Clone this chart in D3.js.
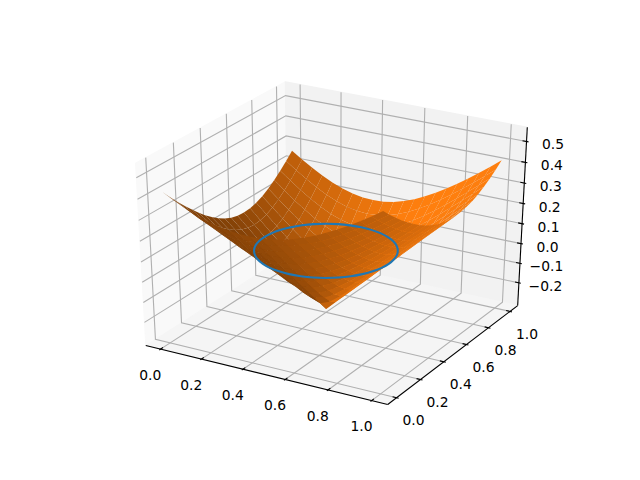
<!DOCTYPE html>
<html>
<head>
<meta charset="utf-8">
<script src="https://cdn.jsdelivr.net/npm/d3@7"></script>
<style>
html,body{margin:0;padding:0;background:#fff}
svg{display:block}
text{font-family:"DejaVu Sans",sans-serif;font-size:13.89px;fill:#000;text-anchor:middle;dominant-baseline:central}
</style>
</head>
<body>
<svg id="chart" width="640" height="480"></svg>
<script>
// ---------- data ----------
const gridX = [0,.05,.1,.15,.2,.25,.3,.35,.4,.45,.5,.55,.6,.65,.7,.75,.8,.85,.9,.95,1];
const gridY = [0,.05,.1,.15,.2,.25,.3,.35,.4,.45,.5,.55,.6,.65,.7,.75,.8,.85,.9,.95,1];
// one row per gridY value, one column per gridX value
const surfaceZ = [
[.421,.395,.371,.35,.332,.318,.308,.302,.3,.302,.308,.318,.332,.35,.371,.395,.421,.45,.481,.514,.549],
[.38,.352,.326,.304,.285,.27,.259,.252,.25,.252,.259,.27,.285,.304,.326,.352,.38,.411,.443,.478,.514],
[.34,.31,.283,.259,.239,.222,.21,.202,.2,.202,.21,.222,.239,.259,.283,.31,.34,.373,.407,.443,.481],
[.302,.27,.241,.215,.192,.174,.161,.153,.15,.153,.161,.174,.192,.215,.241,.27,.302,.336,.373,.411,.45],
[.266,.232,.2,.172,.147,.127,.112,.103,.1,.103,.112,.127,.147,.172,.2,.232,.266,.302,.34,.38,.421],
[.232,.195,.161,.13,.103,.081,.064,.054,.05,.054,.064,.081,.103,.13,.161,.195,.232,.27,.31,.352,.395],
[.2,.161,.124,.09,.061,.035,.016,.004,0,.004,.016,.035,.061,.09,.124,.161,.2,.241,.283,.326,.371],
[.172,.13,.09,.054,.02,-.008,-.031,-.045,-.05,-.045,-.031,-.008,.02,.054,.09,.13,.172,.215,.259,.304,.35],
[.147,.103,.061,.02,-.017,-.05,-.076,-.094,-.1,-.094,-.076,-.05,-.017,.02,.061,.103,.147,.192,.239,.285,.332],
[.127,.081,.035,-.008,-.05,-.088,-.12,-.142,-.15,-.142,-.12,-.088,-.05,-.008,.035,.081,.127,.174,.222,.27,.318],
[.112,.064,.016,-.031,-.076,-.12,-.159,-.188,-.2,-.188,-.159,-.12,-.076,-.031,.016,.064,.112,.161,.21,.259,.308],
[.103,.054,.004,-.045,-.094,-.142,-.188,-.229,-.25,-.229,-.188,-.142,-.094,-.045,.004,.054,.103,.153,.202,.252,.302],
[.1,.05,0,-.05,-.1,-.15,-.2,-.25,-.3,-.25,-.2,-.15,-.1,-.05,0,.05,.1,.15,.2,.25,.3],
[.103,.054,.004,-.045,-.094,-.142,-.188,-.229,-.25,-.229,-.188,-.142,-.094,-.045,.004,.054,.103,.153,.202,.252,.302],
[.112,.064,.016,-.031,-.076,-.12,-.159,-.188,-.2,-.188,-.159,-.12,-.076,-.031,.016,.064,.112,.161,.21,.259,.308],
[.127,.081,.035,-.008,-.05,-.088,-.12,-.142,-.15,-.142,-.12,-.088,-.05,-.008,.035,.081,.127,.174,.222,.27,.318],
[.147,.103,.061,.02,-.017,-.05,-.076,-.094,-.1,-.094,-.076,-.05,-.017,.02,.061,.103,.147,.192,.239,.285,.332],
[.172,.13,.09,.054,.02,-.008,-.031,-.045,-.05,-.045,-.031,-.008,.02,.054,.09,.13,.172,.215,.259,.304,.35],
[.2,.161,.124,.09,.061,.035,.016,.004,0,.004,.016,.035,.061,.09,.124,.161,.2,.241,.283,.326,.371],
[.232,.195,.161,.13,.103,.081,.064,.054,.05,.054,.064,.081,.103,.13,.161,.195,.232,.27,.31,.352,.395],
[.266,.232,.2,.172,.147,.127,.112,.103,.1,.103,.112,.127,.147,.172,.2,.232,.266,.302,.34,.38,.421]
];
const circleX = [.7,.695,.682,.66,.63,.593,.55,.503,.452,.4,.348,.297,.25,.207,.17,.14,.118,.105,.1,.105,.118,.14,.17,.207,.25,.297,.348,.4,.452,.503,.55,.593,.63,.66,.682,.695];
const circleY = [.6,.652,.703,.75,.793,.83,.86,.882,.895,.9,.895,.882,.86,.83,.793,.75,.703,.652,.6,.548,.497,.45,.407,.37,.34,.318,.305,.3,.305,.318,.34,.37,.407,.45,.497,.548];
const xTicks = [0,.2,.4,.6,.8,1];
const yTicks = [0,.2,.4,.6,.8,1];
const zTicks = [-.2,-.1,0,.1,.2,.3,.4,.5];
const xLim = [-.05,1.05], yLim = [-.05,1.05], zLim = [-.3,.55];

// ---------- 3D projection (elev 30, azim -60, dist 10) ----------
const elev = 30*Math.PI/180, azim = -60*Math.PI/180, dist = 10;
const n = [Math.cos(elev)*Math.cos(azim), Math.cos(elev)*Math.sin(azim), Math.sin(elev)];
const u = [-Math.sin(azim), Math.cos(azim), 0];
const v = [n[1]*u[2]-n[2]*u[1], n[2]*u[0]-n[0]*u[2], n[0]*u[1]-n[1]*u[0]];
const dot = (a,b)=>a[0]*b[0]+a[1]*b[1]+a[2]*b[2];
const nx = d3.scaleLinear().domain(xLim).range([-.5,.5]);
const ny = d3.scaleLinear().domain(yLim).range([-.5,.5]);
const nz = d3.scaleLinear().domain(zLim).range([-.5,.5]);
const screenX = d3.scaleLinear().domain([-.095,.09]).range([80,576]);
const screenY = d3.scaleLinear().domain([-.095,.09]).range([427.2,57.6]);
function depth(x,y,z){ return dot(n,[nx(x),ny(y),nz(z)]); }
function proj(x,y,z){
  const p=[nx(x),ny(y),nz(z)], w=dist-dot(n,p);
  return [screenX(dot(u,p)/w), screenY(dot(v,p)/w)];
}
const pad = l => { const d=(l[1]-l[0])/12; return [l[0]-d/4, l[1]+d/4, d]; };
const [x0,x1,dx] = pad(xLim), [y0,y1,dy] = pad(yLim), [z0,z1,dz] = pad(zLim);

const svg = d3.select('#chart');
const line3 = (pts,closed) => (closed?d3.line().curve(d3.curveLinearClosed):d3.line())(pts.map(p=>proj(...p)));

// ---------- panes ----------
const panes = [
 {c:'#f9f9f9', p:[[x0,y0,z0],[x0,y1,z0],[x0,y1,z1],[x0,y0,z1]]},
 {c:'#f2f2f2', p:[[x0,y1,z0],[x1,y1,z0],[x1,y1,z1],[x0,y1,z1]]},
 {c:'#f5f5f5', p:[[x0,y0,z0],[x1,y0,z0],[x1,y1,z0],[x0,y1,z0]]}
];
svg.append('g').selectAll('path').data(panes).join('path')
  .attr('d',d=>line3(d.p,true)).attr('fill',d=>d.c).attr('stroke',d=>d.c).attr('stroke-width',1);

// ---------- grid ----------
const gridLines = [
 ...xTicks.map(t=>[[t,y0,z0],[t,y1,z0],[t,y1,z1]]),
 ...yTicks.map(t=>[[x1,t,z0],[x0,t,z0],[x0,t,z1]]),
 ...zTicks.map(t=>[[x0,y0,t],[x0,y1,t],[x1,y1,t]])
];
svg.append('g').selectAll('path').data(gridLines).join('path')
  .attr('d',d=>line3(d)).attr('fill','none').attr('stroke','#b0b0b0').attr('stroke-width',1.11);

// ---------- axis lines and ticks ----------
const axisLines = [
 [[x0,y0,z0],[x1,y0,z0]],
 [[x1,y0,z0],[x1,y1,z0]],
 [[x1,y1,z0],[x1,y1,z1]],
 ...xTicks.map(t=>[[t,y0-.1*dy,z0],[t,y0+.2*dy,z0]]),
 ...yTicks.map(t=>[[x1+.1*dx,t,z0],[x1-.2*dx,t,z0]]),
 ...zTicks.map(t=>[[x1+.1*dx,y1,t],[x1-.2*dx,y1,t]])
];
svg.append('g').selectAll('path').data(axisLines).join('path')
  .attr('d',d=>line3(d)).attr('fill','none').attr('stroke','#000').attr('stroke-width',1.11);

// ---------- surface ----------
const quads = [];
for (let j=0;j<gridY.length-1;j++) for (let i=0;i<gridX.length-1;i++){
  const pts = [[gridX[i],gridY[j],surfaceZ[j][i]],[gridX[i+1],gridY[j],surfaceZ[j][i+1]],
               [gridX[i+1],gridY[j+1],surfaceZ[j+1][i+1]],[gridX[i],gridY[j+1],surfaceZ[j+1][i]]];
  const a=[pts[0][0]-pts[1][0],pts[0][1]-pts[1][1],pts[0][2]-pts[1][2]];
  const b=[pts[1][0]-pts[2][0],pts[1][1]-pts[2][1],pts[1][2]-pts[2][2]];
  const m=[a[1]*b[2]-a[2]*b[1],a[2]*b[0]-a[0]*b[2],a[0]*b[1]-a[1]*b[0]];
  const len=Math.hypot(...m);
  quads.push({pts, shade:dot(m,[-1,-1,.5])/len, d:d3.mean(pts,p=>depth(...p))});
}
quads.sort((a,b)=>d3.ascending(a.d,b.d));
const shadeK = d3.scaleLinear().domain(d3.extent(quads,q=>q.shade)).range([.5,1]);
const faceColor = q => { const k=shadeK(q.shade); return d3.rgb(255*k,127*k,14*k).toString(); };
svg.append('g').selectAll('path').data(quads).join('path')
  .attr('d',d=>line3(d.pts,true)).attr('fill',faceColor).attr('stroke','none');

// ---------- circle at z = 0 ----------
svg.append('path')
  .attr('d',d3.line().curve(d3.curveCatmullRomClosed)(circleX.map((x,i)=>proj(x,circleY[i],0))))
  .attr('fill','none').attr('stroke','#1f77b4').attr('stroke-width',2.08);

// ---------- tick labels ----------
const fmt = d3.format('.1f');
const labels = [
 ...xTicks.map(t=>{const p=proj(t,y0,z0);return {t,x:p[0]-10.2,y:p[1]+25.6};}),
 ...yTicks.map(t=>{const p=proj(x1,t,z0);return {t,x:p[0]+17,y:p[1]+22.6};}),
 ...zTicks.map(t=>{const p=proj(x1,y1,t);return {t,x:p[0]+26.5,y:p[1]+3};})
];
svg.append('g').selectAll('text').data(labels).join('text')
  .attr('x',d=>d.x).attr('y',d=>d.y).text(d=>fmt(d.t));
</script>
</body>
</html>
